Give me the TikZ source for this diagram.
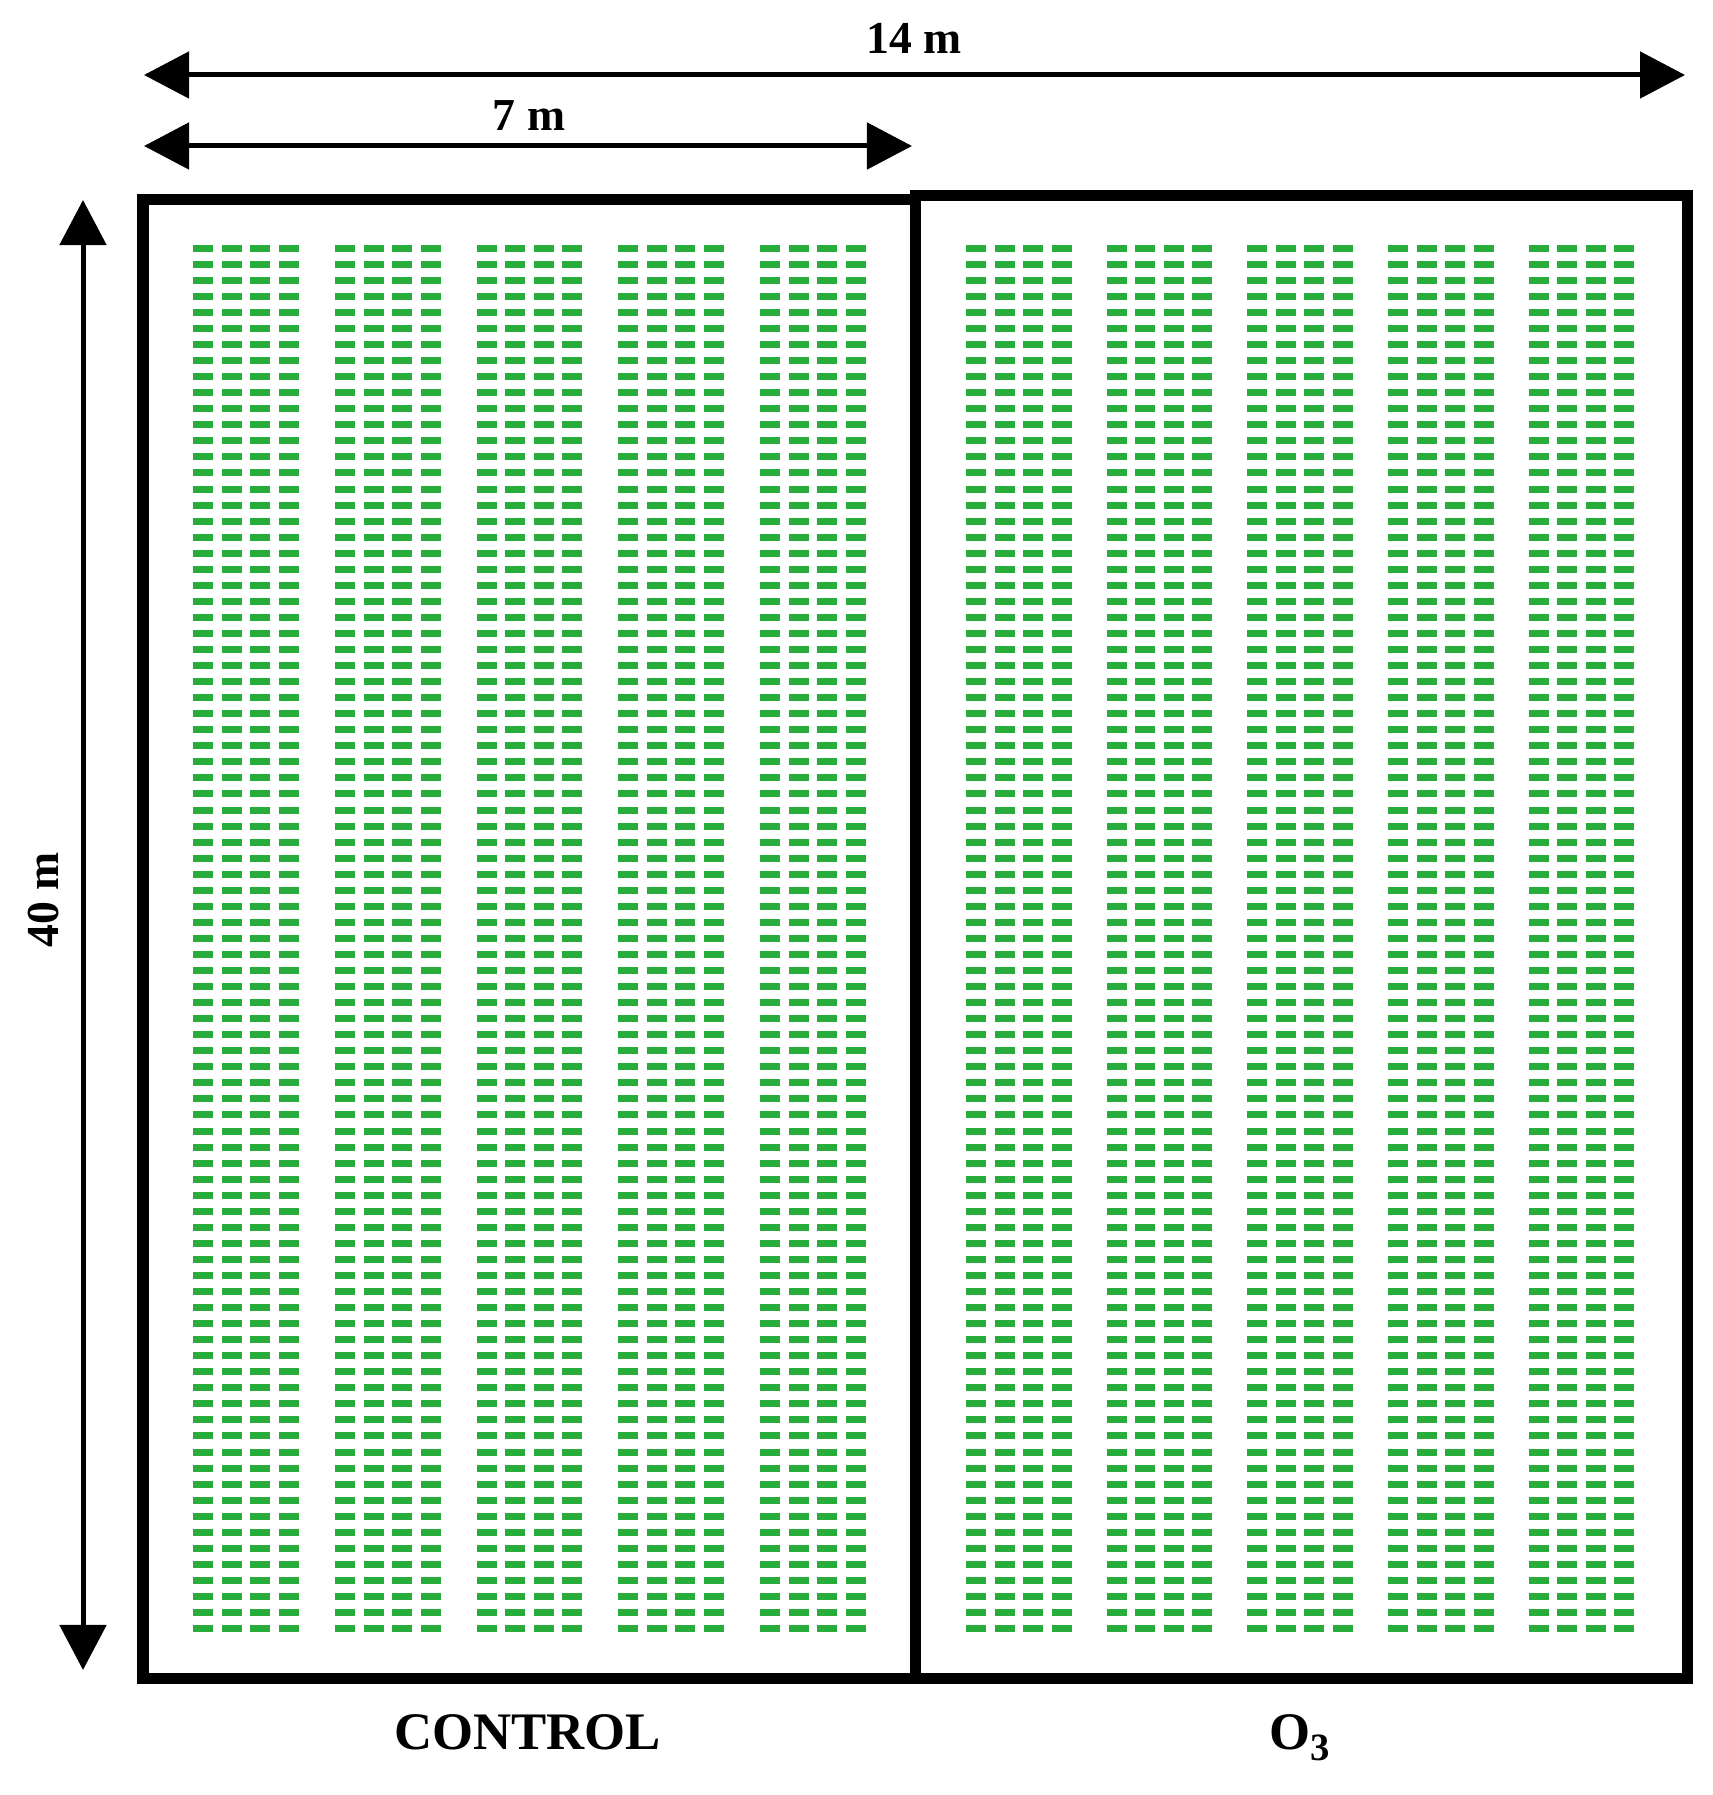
\documentclass[tikz,border=0pt]{standalone}
\usepackage{fontspec}
\setmainfont{Liberation Serif}
\usetikzlibrary{arrows.meta}
\definecolor{plantgreen}{RGB}{40,172,60}
\begin{document}
\begin{tikzpicture}[x=0.01cm,y=-0.01cm,
  dimarrow/.style={line width=0.05cm, {Triangle[length=0.45cm,width=0.46cm]}-{Triangle[length=0.45cm,width=0.46cm]}},
  plotbox/.style={line width=0.11cm, line join=miter},
  lbl/.style={font=\fontsize{13}{15}\selectfont\bfseries, inner sep=0},
  trt/.style={font=\fontsize{15}{18}\selectfont\bfseries, inner sep=0},
  plants/.style={plantgreen, line width=0.2cm, dash pattern=on 0.07cm off 0.0904cm}]
\useasboundingbox (0,0) rectangle (1712,1795);
% plant rows
\foreach \g in {0,...,4}{\foreach \c in {0,...,3}{
  \draw[plants] ({203.3+141.7*\g+28.5*\c},244.8) -- ++(0,1387);
  \draw[plants] ({976+140.7*\g+28.5*\c},244.8) -- ++(0,1387);
}}
% plots
\draw[plotbox] (143,200) rectangle (915.5,1678);
\draw[plotbox] (915.5,196) rectangle (1687,1678);
% dimension arrows
\coordinate (l14) at (144,75);
\coordinate (r14) at (1685,75);
\draw[dimarrow] (l14) -- (r14);
\coordinate (l7) at (144,146);
\coordinate (r7) at (912,146);
\draw[dimarrow] (l7) -- (r7);
\coordinate (t40) at (83,200);
\coordinate (b40) at (83,1670);
\draw[dimarrow] (t40) -- (b40);
% labels
\node[lbl] (m14) at (914,38) {14 m};
\node[lbl] (m7) at (529,116) {7 m};
\node[lbl, rotate=90] (m40) at (44,900) {40 m};
\node[trt] (ctrl) at (527.5,1732) {CONTROL};
\node[trt] (ozone) at (1300,1738) {O\raisebox{-0.45ex}{\fontsize{11}{12}\selectfont 3}};
\end{tikzpicture}
\end{document}
